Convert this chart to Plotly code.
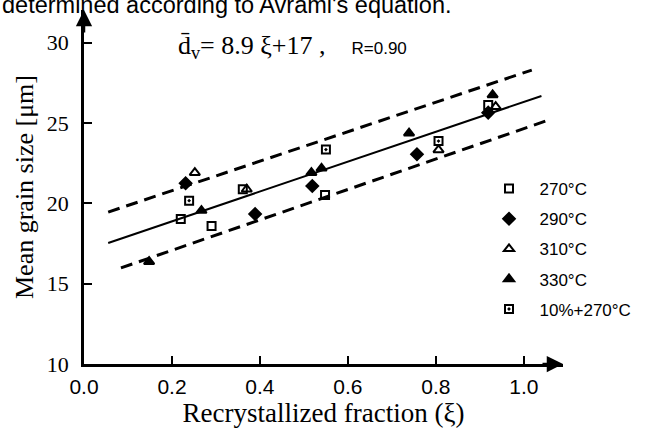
import plotly.graph_objects as go

# ---- data ----
t270_x = [0.220, 0.290, 0.361, 0.548, 0.919]
t270_y = [19.03, 18.59, 20.88, 20.52, 26.13]
t290_x = [0.231, 0.389, 0.519, 0.757, 0.919]
t290_y = [21.25, 19.34, 21.08, 23.06, 25.65]
t310_x = [0.252, 0.370, 0.806, 0.936]
t310_y = [21.91, 20.88, 23.33, 26.02]
t330_x = [0.148, 0.267, 0.517, 0.540, 0.739, 0.929]
t330_y = [16.37, 19.55, 21.91, 22.18, 24.37, 26.75]
t10_x = [0.239, 0.550, 0.806]
t10_y = [20.17, 23.35, 23.88]

fit_x = [0.055, 1.040]
fit_y = [17.53, 26.69]
upper_x = [0.055, 1.018]
upper_y = [19.46, 28.30]
lower_x = [0.084, 1.050]
lower_y = [15.98, 25.13]

x_ticks = [0.0, 0.2, 0.4, 0.6, 0.8, 1.0]
x_labels = ["0.0", "0.2", "0.4", "0.6", "0.8", "1.0"]
y_ticks = [10, 15, 20, 25, 30]
y_labels = ["10", "15", "20", "25", "30"]

x_range = [0.0, 1.089]
y_range = [10.0, 32.04]

SERIF = "Liberation Serif"
SANS = "Liberation Sans"

fig = go.Figure()

# fit line and bounds
fig.add_trace(go.Scatter(x=fit_x, y=fit_y, mode="lines",
                         line=dict(color="black", width=2), showlegend=False, hoverinfo="skip"))
for xs, ys in [(upper_x, upper_y), (lower_x, lower_y)]:
    fig.add_trace(go.Scatter(x=xs, y=ys, mode="lines",
                             line=dict(color="black", width=3, dash="12px,7px"),
                             showlegend=False, hoverinfo="skip"))

series = [
    ("270°C", t270_x, t270_y, "square-open", 8),
    ("290°C", t290_x, t290_y, "diamond", 9),
    ("310°C", t310_x, t310_y, "triangle-up-open", 9),
    ("330°C", t330_x, t330_y, "triangle-up", 9),
    ("10%+270°C", t10_x, t10_y, "square-open-dot", 8),
]
for i, (name, xs, ys, sym, sz) in enumerate(series):
    fig.add_trace(go.Scatter(
        x=xs, y=ys, mode="markers", name=name, legendgroup=f"g{i}",
        marker=dict(symbol=sym, size=sz, color="black",
                    line=dict(color="black", width=2)),
    ))

annotations = [
    # equation
    dict(x=0.21, y=29.75, xref="x", yref="y", xanchor="left", yanchor="middle",
         showarrow=False,
         text="d\u0304<sub>v</sub>= 8.9 ξ+17 ,    <span style='font-family:Liberation Sans;font-size:17px'>R=0.90</span>",
         font=dict(family=SERIF, size=26, color="black")),
    # caption fragment at the top (cut off in the source image)
    dict(x=0, y=1.0, xref="paper", yref="paper", xanchor="left", yanchor="bottom",
         xshift=-84, yshift=-10, showarrow=False,
         text="determined according to Avrami's equation.",
         font=dict(family=SANS, size=23.5, color="black")),
    # axis arrow heads
    dict(x=x_range[1], y=10, ax=x_range[1] - 0.05, ay=10, xref="x", yref="y",
         axref="x", ayref="y", showarrow=True, arrowhead=2, arrowsize=1.3,
         arrowwidth=2.5, arrowcolor="black", text=""),
    dict(x=0, y=y_range[1], ax=0, ay=y_range[1] - 1.5, xref="x", yref="y",
         axref="x", ayref="y", showarrow=True, arrowhead=2, arrowsize=1.3,
         arrowwidth=2.5, arrowcolor="black", text=""),
]

fig.update_layout(
    width=658, height=428,
    margin=dict(l=84, r=95, t=10, b=64),
    paper_bgcolor="white", plot_bgcolor="white",
    showlegend=True,
    legend=dict(x=0.8236, y=0.545, xanchor="left", yanchor="top",
                font=dict(family=SANS, size=17, color="black"),
                bgcolor="rgba(0,0,0,0)", tracegroupgap=5, itemwidth=51),
    annotations=annotations,
    xaxis=dict(range=x_range, tickvals=x_ticks, ticktext=x_labels,
               showgrid=False, zeroline=False, showline=True, linecolor="black",
               linewidth=2.5, ticks="inside", ticklen=8, tickwidth=2,
               tickcolor="black", ticklabelstandoff=2,
               tickfont=dict(family=SANS, size=21, color="black"),
               title=dict(text="Recrystallized fraction (ξ)",
                          font=dict(family=SERIF, size=27, color="black"),
                          standoff=1)),
    yaxis=dict(range=y_range, tickvals=y_ticks, ticktext=y_labels,
               showgrid=False, zeroline=False, showline=True, linecolor="black",
               linewidth=2.5, ticks="inside", ticklen=8, tickwidth=2,
               tickcolor="black", ticklabelstandoff=8,
               tickfont=dict(family=SERIF, size=22, color="black"),
               title=dict(text="Mean grain size [μm]",
                          font=dict(family=SERIF, size=26, color="black"),
                          standoff=6)),
)

fig.write_html("out.html")
